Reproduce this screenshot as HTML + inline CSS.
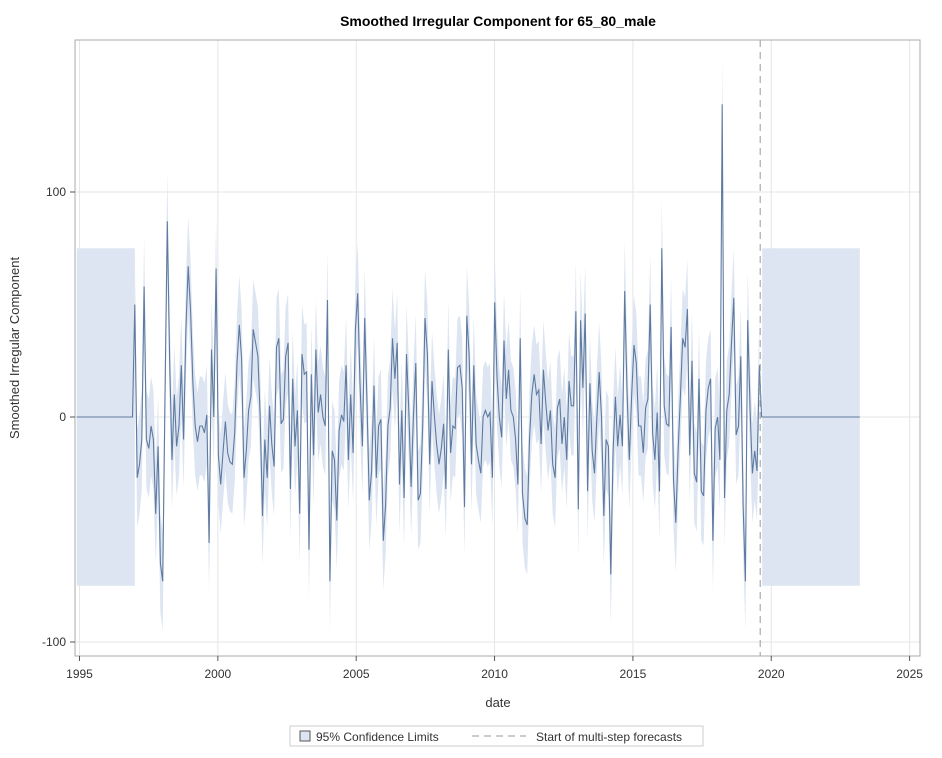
<!DOCTYPE html>
<html><head><meta charset="utf-8"><style>
body{margin:0;background:#fff;font-family:"Liberation Sans",Arial,sans-serif}
svg text{font-family:"Liberation Sans",Arial,sans-serif}
</style></head><body>
<svg id="chart" width="942" height="753">
<text x="498" y="26" text-anchor="middle" font-size="14" font-weight="bold">Smoothed Irregular Component for 65_80_male</text>
<g id="grid"></g>
<g id="bands"></g>
<g id="series"></g>
<rect x="75" y="40" width="845" height="616" fill="none" stroke="#aaa"/>
<g id="axes"></g>
<text x="498" y="707" text-anchor="middle" font-size="13" fill="#333">date</text>
<text transform="translate(19,348) rotate(-90)" text-anchor="middle" font-size="13" fill="#333">Smoothed Irregular Component</text>
<g>
<rect x="290" y="726" width="413" height="20" fill="#fff" stroke="#ccc"/>
<rect x="300" y="731" width="10" height="10" fill="#dce5f1" stroke="#555"/>
<text x="316" y="741" font-size="12" fill="#333">95% Confidence Limits</text>
<line x1="472" y1="736" x2="526" y2="736" stroke="#999" stroke-dasharray="7,5"/>
<text x="536" y="741" font-size="12" fill="#333">Start of multi-step forecasts</text>
</g>
</svg>
<script>
const xTicks=[1995,2000,2005,2010,2015,2020,2025];
const yTicks=[-100,0,100];
const seriesStart=1997.0;
const values=[50,-27,-21,-10,58,-10,-14,-4,-10,-43,-13,-65,-73,9,87,24,-19,10,-13,-4,23,-10,39,67,47,15,-4,-11,-4,-4,-7,1,-56,30,0,66,-17,-30,-15,-2,-16,-20,-21,-7,24,41,
26,-27,-15,3,9,39,33,27,0,-44,-10,-27,5,-12,-22,31,35,-3,-1,27,33,-32,17,-13,3,-43,28,19,20,-59,19,-17,30,2,10,0,-4,52,-73,-15,-19,-46,-6,1,-2,23,-19,
10,-16,39,55,15,-13,44,6,-37,-24,14,-27,-4,-1,-55,-39,-4,4,35,17,33,-30,3,-36,28,3,-31,0,24,-37,-34,-4,44,28,-21,16,1,-12,-21,-14,-3,-32,30,-16,-4,-5,22,
23,13,-40,45,27,-21,23,-12,-19,-25,0,3,0,2,-27,51,18,0,-9,34,8,21,3,0,-10,-30,35,-34,-45,-48,-10,10,19,10,12,-12,21,6,-6,3,-21,-27,4,8,-12,0,-19,16,
5,5,47,-41,43,13,46,-33,15,-15,-25,-1,20,0,-44,-10,-13,-70,-15,9,-13,1,-13,56,12,-19,10,32,24,-4,-4,-16,4,8,50,-7,-19,2,-33,75,5,-3,-4,40,-28,-47,
-15,9,35,31,48,-17,25,-25,-29,17,-33,-35,3,13,17,-55,-5,0,-19,139,-36,3,10,33,53,-8,-4,27,-39,-73,43,3,-25,-15,-24,23];
const ciHalf=22;
const flatCI=75;
const preStart=1994.9, forecastStart=2019.6, forecastEnd=2023.2;

const X=t=>79.5+(t-1995)*27.67;
const Y=v=>417-v*2.25;
const NS='http://www.w3.org/2000/svg';
function mk(tag,attrs,parent){const e=document.createElementNS(NS,tag);for(const k in attrs)e.setAttribute(k,attrs[k]);parent.appendChild(e);return e;}
const grid=document.getElementById('grid'),axes=document.getElementById('axes'),bands=document.getElementById('bands'),series=document.getElementById('series');

xTicks.forEach(t=>{
 const g=mk('line',{x1:X(t),x2:X(t),y1:40,y2:656,stroke:'#e6e6e6'},grid);
 
 
 const tk=mk('line',{x1:X(t),x2:X(t),y1:656,y2:661,stroke:'#555'},axes);
 
 
 const tx=mk('text',{x:X(t),y:678,'text-anchor':'middle','font-size':12,fill:'#333'},axes);
 tx.textContent=t;
 
 
});
yTicks.forEach(v=>{
 const g=mk('line',{x1:75,x2:920,y1:Y(v),y2:Y(v),stroke:'#e6e6e6'},grid);
 
 
 const tk=mk('line',{x1:70,x2:75,y1:Y(v),y2:Y(v),stroke:'#555'},axes);
 
 
 const tx=mk('text',{x:66,y:Y(v)+4,'text-anchor':'end','font-size':12,fill:'#333'},axes);
 tx.textContent=v;
 
 
});

const t0=seriesStart;
const step=(forecastStart-0.03-t0)/(values.length-1);
const T=i=>t0+i*step;
const r1=mk('rect',{x:X(preStart),y:Y(flatCI),width:X(t0)-X(preStart),height:Y(-flatCI)-Y(flatCI),fill:'#dce5f1'},bands);


const r2=mk('rect',{x:X(forecastStart)+2,y:Y(flatCI),width:X(forecastEnd)-X(forecastStart)-2,height:Y(-flatCI)-Y(flatCI),fill:'#dce5f1'},bands);


let up=[],lo=[];
values.forEach((v,i)=>{const x=X(T(i));up.push(x.toFixed(1)+','+Y(v+ciHalf).toFixed(1));lo.unshift(x.toFixed(1)+','+Y(v-ciHalf).toFixed(1));});
const poly=mk('polygon',{points:up.concat(lo).join(' '),fill:'#dce5f1'},bands);



let pts=[X(preStart).toFixed(1)+','+Y(0), X(t0-step).toFixed(1)+','+Y(0)];
values.forEach((v,i)=>pts.push(X(T(i)).toFixed(1)+','+Y(v).toFixed(1)));
pts.push(X(forecastStart+0.05).toFixed(1)+','+Y(0));
pts.push(X(forecastEnd).toFixed(1)+','+Y(0));
const line=mk('polyline',{points:pts.join(' '),fill:'none',stroke:'#5f7aa0','stroke-width':1.1},series);



const fl=mk('line',{x1:X(forecastStart),x2:X(forecastStart),y1:40,y2:656,stroke:'#999','stroke-dasharray':'7,5'},series);


</script>
</body></html>
